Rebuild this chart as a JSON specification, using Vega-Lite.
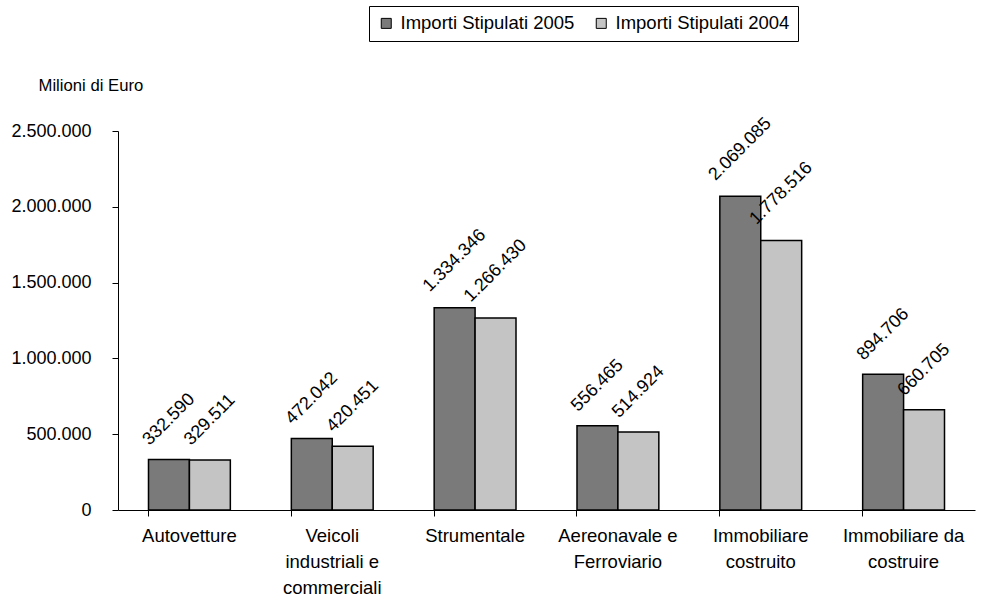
{
  "$schema": "https://vega.github.io/schema/vega-lite/v6.json",
  "width": 857,
  "height": 379,
  "autosize": {"type": "none"},
  "padding": {"left": 118, "top": 131, "right": 25, "bottom": 91},
  "background": "white",
  "config": {
    "locale": {"number": {"decimal": ",", "thousands": ".", "grouping": [3], "currency": ["", " €"]}},
    "font": "Liberation Sans",
    "view": {"stroke": null},
    "axis": {"labelFont": "Liberation Sans", "titleFont": "Liberation Sans", "labelColor": "black", "titleColor": "black", "domainColor": "black", "tickColor": "black", "grid": false}
  },
  "data": {
    "values": [
      {"categoria": "Autovetture", "serie": "Importi Stipulati 2005", "valore": 332590},
      {"categoria": "Autovetture", "serie": "Importi Stipulati 2004", "valore": 329511},
      {"categoria": "Veicoli|industriali e|commerciali", "serie": "Importi Stipulati 2005", "valore": 472042},
      {"categoria": "Veicoli|industriali e|commerciali", "serie": "Importi Stipulati 2004", "valore": 420451},
      {"categoria": "Strumentale", "serie": "Importi Stipulati 2005", "valore": 1334346},
      {"categoria": "Strumentale", "serie": "Importi Stipulati 2004", "valore": 1266430},
      {"categoria": "Aereonavale e|Ferroviario", "serie": "Importi Stipulati 2005", "valore": 556465},
      {"categoria": "Aereonavale e|Ferroviario", "serie": "Importi Stipulati 2004", "valore": 514924},
      {"categoria": "Immobiliare|costruito", "serie": "Importi Stipulati 2005", "valore": 2069085},
      {"categoria": "Immobiliare|costruito", "serie": "Importi Stipulati 2004", "valore": 1778516},
      {"categoria": "Immobiliare da|costruire", "serie": "Importi Stipulati 2005", "valore": 894706},
      {"categoria": "Immobiliare da|costruire", "serie": "Importi Stipulati 2004", "valore": 660705}
    ]
  },
  "encoding": {
    "x": {
      "field": "categoria",
      "type": "nominal",
      "sort": null,
      "scale": {"paddingInner": 0.427, "paddingOuter": 0.2135},
      "axis": {
        "title": null,
        "labelAngle": 0,
        "labelFontSize": 18.5,
        "labelLineHeight": 26,
        "labelPadding": 10,
        "labelLimit": 0,
        "tickSize": 6,
        "bandPosition": 0,
        "labelExpr": "split(datum.label, '|')"
      }
    },
    "xOffset": {
      "field": "serie",
      "type": "nominal",
      "sort": ["Importi Stipulati 2005", "Importi Stipulati 2004"],
      "scale": {"paddingInner": 0, "paddingOuter": 0}
    },
    "y": {
      "field": "valore",
      "type": "quantitative",
      "scale": {"domain": [0, 2500000], "nice": false},
      "axis": {
        "values": [0, 500000, 1000000, 1500000, 2000000, 2500000],
        "format": ",d",
        "labelFontSize": 18,
        "labelPadding": 21,
        "tickSize": 6,
        "title": "Milioni di Euro",
        "titleAngle": 0,
        "titleFontSize": 16.7,
        "titleFontWeight": "normal",
        "titleAlign": "left",
        "titleBaseline": "middle",
        "titleX": -80,
        "titleY": -46
      }
    }
  },
  "layer": [
    {
      "mark": {"type": "bar", "stroke": "black", "strokeWidth": 1.5},
      "encoding": {
        "fill": {
          "field": "serie",
          "type": "nominal",
          "scale": {"domain": ["Importi Stipulati 2005", "Importi Stipulati 2004"], "range": ["#7a7a7a", "#c4c4c4"]},
          "legend": {
            "title": null,
            "orient": "none",
            "direction": "horizontal",
            "legendX": 251,
            "legendY": -125,
            "symbolType": "square",
            "symbolSize": 100,
            "symbolStrokeColor": "black",
            "symbolStrokeWidth": 1,
            "labelFontSize": 18.5,
            "labelFont": "Liberation Sans",
            "labelColor": "black",
            "labelLimit": 0,
            "labelOffset": 5,
            "columnPadding": 17,
            "padding": 8,
            "strokeColor": "black",
            "fillColor": "white"
          }
        }
      }
    },
    {
      "mark": {
        "type": "text",
        "angle": -45,
        "align": "center",
        "baseline": "middle",
        "fontSize": 18,
        "color": "black",
        "yOffset": {"expr": "datum.valore >= 1000000 ? -47 : -40"}
      },
      "encoding": {
        "text": {"field": "valore", "type": "quantitative", "format": ",d"}
      }
    }
  ]
}
